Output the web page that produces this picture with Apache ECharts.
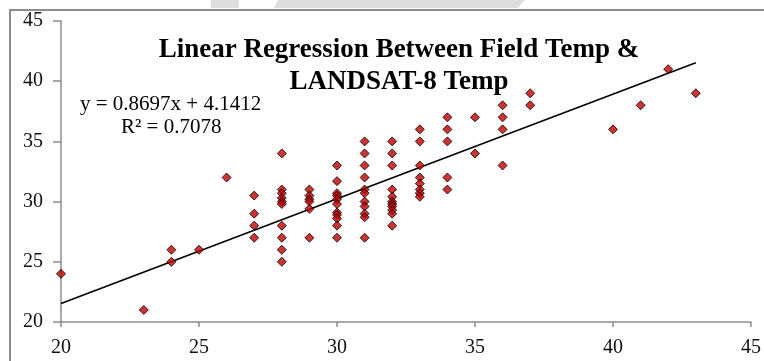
<!DOCTYPE html>
<html>
<head>
<meta charset="utf-8">
<script src="https://cdn.jsdelivr.net/npm/echarts@6/dist/echarts.min.js"></script>
<style>
  html, body { margin: 0; padding: 0; background: #fff; }
  #chart { width: 764px; height: 361px; }
</style>
</head>
<body>
<div id="chart"></div>
<script>
// field temperature (x) and LANDSAT-8 temperature (y)
const fieldTemp = [
  20, 23, 24, 24, 25, 26,
  27, 27, 27, 27,
  28, 28, 28, 28, 28, 28, 28, 28, 28, 28,
  29, 29, 29, 29, 29, 29,
  30, 30, 30, 30, 30, 30, 30, 30, 30, 30, 30,
  31, 31, 31, 31, 31, 31, 31, 31, 31, 31, 31,
  32, 32, 32, 32, 32, 32, 32, 32, 32, 32, 32,
  33, 33, 33, 33, 33, 33, 33, 33,
  34, 34, 34, 34, 34,
  35, 35,
  36, 36, 36, 36,
  37, 37,
  40, 41, 42, 43
];
const landsatTemp = [
  24, 21, 26, 25, 26, 32,
  30.5, 29, 28, 27,
  34, 31, 30.7, 30.3, 30, 29.8, 28, 27, 26, 25,
  31, 30.5, 30.2, 30, 29.4, 27,
  33, 31.7, 30.7, 30.5, 30.2, 29.8, 29.1, 28.9, 28.6, 28, 27,
  35, 34, 33, 32, 31, 30.7, 30, 29.6, 29, 28.7, 27,
  35, 34, 33, 31, 30.4, 30, 29.8, 29.6, 29.3, 29, 28,
  36, 35, 33, 32, 31.5, 31, 30.7, 30.4,
  37, 36, 35, 32, 31,
  37, 34,
  38, 37, 36, 33,
  39, 38,
  36, 38, 41, 39
];
const slope = 0.8697;
const intercept = 4.1412;
const rSquared = 0.7078;
const titleLines = ['Linear Regression Between Field Temp &', 'LANDSAT-8 Temp'];

const points = fieldTemp.map((x, i) => [x, landsatTemp[i]]);
const xLo = Math.min(...fieldTemp);
const xHi = Math.max(...fieldTemp);
const trend = [[xLo, slope * xLo + intercept], [xHi, slope * xHi + intercept]];

const FONT = '"Liberation Serif", "Times New Roman", serif';
const axisGrey = '#8c8c8c';

const chart = echarts.init(document.getElementById('chart'));
chart.setOption({
  animation: false,
  textStyle: { fontFamily: FONT },
  title: {
    text: titleLines.join('\n'),
    left: 394,
    textAlign: 'center',
    top: 29,
    textStyle: { fontFamily: FONT, fontSize: 27, fontWeight: 'bold', color: '#000', lineHeight: 32 }
  },
  grid: { left: 61, right: 13, top: 21, bottom: 39 },
  xAxis: {
    type: 'value', min: 20, max: 45, interval: 5,
    axisLine: { show: true, lineStyle: { color: axisGrey, width: 1.5 } },
    axisTick: { show: true, length: 5, lineStyle: { color: axisGrey, width: 1.5 } },
    axisLabel: { color: '#111', fontSize: 20, fontFamily: FONT, margin: 16 },
    splitLine: { show: false }
  },
  yAxis: {
    type: 'value', min: 20, max: 45, interval: 5,
    axisLine: { show: true, lineStyle: { color: axisGrey, width: 1.5 } },
    axisTick: { show: true, length: 8, lineStyle: { color: axisGrey, width: 1.5 } },
    axisLabel: { color: '#111', fontSize: 20, fontFamily: FONT, margin: 18 },
    splitLine: { show: false }
  },
  graphic: [
    { type: 'rect', silent: true, shape: { x: 10, y: 10, width: 800, height: 400 },
      style: { fill: 'none', stroke: axisGrey, lineWidth: 2 } },
    { type: 'rect', silent: true, shape: { x: 211, y: 0, width: 28, height: 8 },
      style: { fill: '#dedede' } },
    { type: 'polygon', silent: true, shape: { points: [[278, 0], [525, 0], [518, 8], [274, 8]] },
      style: { fill: '#dedede' } },
    { type: 'text', left: 80, top: 94,
      style: { text: 'y = ' + slope + 'x + ' + intercept, font: '21px ' + FONT, fill: '#000' } },
    { type: 'text', left: 121, top: 117,
      style: { text: 'R² = ' + rSquared, font: '21px ' + FONT, fill: '#000' } }
  ],
  series: [
    {
      type: 'line', data: trend, showSymbol: false, z: 1,
      lineStyle: { color: '#000', width: 1.6 }
    },
    {
      type: 'scatter', data: points, symbol: 'diamond', symbolSize: 9, z: 2,
      itemStyle: { color: '#c00000', borderColor: '#000', borderWidth: 1 }
    }
  ]
});
</script>
</body>
</html>
